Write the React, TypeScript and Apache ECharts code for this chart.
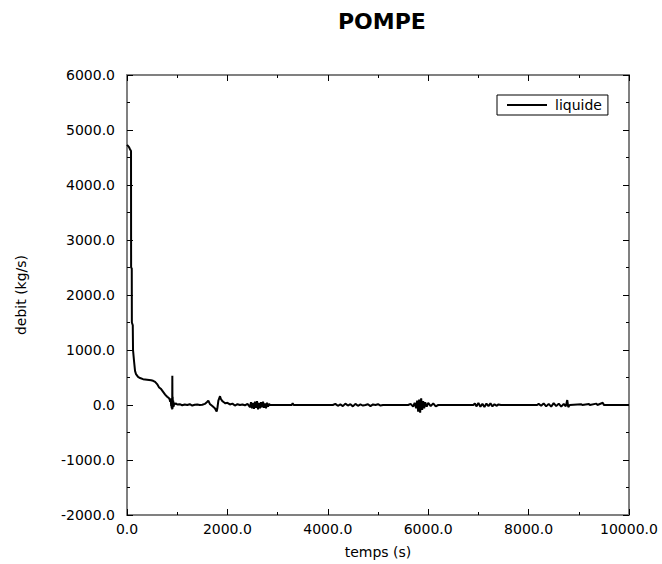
import React, { useEffect, useRef } from "react";
import * as echarts from "echarts";

// Transient (0 - 1000 s)
const tempsTransitoire = [0, 20, 40, 60, 80, 82, 95, 97, 115, 120, 140, 160, 180, 220, 260, 320, 400, 480, 520, 560, 600, 640, 680, 720, 760, 800, 830, 850, 860, 870, 880, 885, 890, 895, 900, 903, 906, 910, 915, 920, 930, 940, 950, 970, 1000];
const debitTransitoire = [4730, 4710, 4690, 4650, 4620, 2500, 2480, 1500, 1450, 1000, 800, 620, 560, 510, 490, 470, 460, 450, 440, 420, 380, 320, 290, 240, 190, 150, 130, 100, 60, 120, -20, 90, -60, 50, -80, 530, -70, 150, -40, 80, -30, 40, 10, 30, 10];

// 1000 - 3400 s
const tempsMilieu = [1050, 1100, 1150, 1200, 1250, 1300, 1350, 1400, 1450, 1500, 1550, 1600, 1620, 1650, 1700, 1750, 1786, 1800, 1820, 1853, 1870, 1900, 1930, 1960, 2000, 2050, 2100, 2150, 2200, 2250, 2300, 2350, 2400, 2450, 2470, 2490, 2510, 2530, 2550, 2570, 2590, 2610, 2630, 2650, 2670, 2690, 2710, 2730, 2750, 2770, 2790, 2810, 2830, 2850, 3280, 3300, 3320];
const debitMilieu = [15, -5, 10, 0, 15, -10, 5, 10, 0, 5, 20, 60, 80, 20, -20, -60, -120, -60, 80, 160, 110, 70, 50, 30, 40, 10, 25, -10, 15, 0, 10, -5, 20, -40, 50, -60, 40, -70, 60, -50, 70, -80, 40, -60, 50, -40, 60, -50, 30, -60, 40, -30, 20, 0, 0, 30, 0];

// 3400 - 10000 s
const tempsFin = [4100, 4150, 4200, 4250, 4300, 4350, 4400, 4450, 4500, 4550, 4600, 4650, 4700, 4750, 4800, 4850, 4900, 4950, 5000, 5050, 5100, 5600, 5650, 5700, 5730, 5760, 5780, 5800, 5820, 5840, 5860, 5880, 5900, 5920, 5940, 5970, 6000, 6050, 6100, 6150, 6200, 6900, 6930, 6960, 7000, 7040, 7080, 7120, 7160, 7200, 7240, 7280, 7320, 7360, 7400, 7450, 8170, 8200, 8250, 8300, 8350, 8400, 8450, 8500, 8550, 8600, 8650, 8700, 8740, 8770, 8790, 8820, 9050, 9070, 9200, 9220, 9350, 9370, 9480, 9500, 10000];
const debitFin = [0, 20, -15, 10, -20, 25, -10, 15, -25, 20, -15, 10, -10, 0, 15, -20, 10, 0, 15, -10, 0, 0, 20, -30, 40, -60, 80, -120, 100, -140, 120, -90, 70, -60, 50, -30, 40, -20, 30, -25, 0, 0, 30, -25, 35, -30, 20, -35, 25, -20, 30, -25, 15, -15, 10, 0, 0, 20, -15, 30, -25, 20, -30, 35, -20, 25, -30, 20, -25, 90, -40, 0, 15, 0, 20, 0, 25, 0, 40, 0, 0];

const xTicks = { min: 0, max: 10000, interval: 2000 };
const yTicks = { min: -2000, max: 6000, interval: 1000 };

const FONT = "DejaVu Sans";

export default function App() {
  const ref = useRef<HTMLDivElement>(null);
  useEffect(() => {
    if (!ref.current) return;
    const chart = echarts.init(ref.current, undefined, { renderer: "svg" });
    const temps = [...tempsTransitoire, ...tempsMilieu, ...tempsFin];
    const debit = [...debitTransitoire, ...debitMilieu, ...debitFin];
    const data = temps.map((t, i) => [t, debit[i]]);
    const axisLine = { show: true, onZero: false, lineStyle: { color: "#808080", width: 2 } };
    const axisTick = { show: true, inside: true, length: 6, lineStyle: { color: "#000", width: 1 } };
    const minorTick = { show: true, splitNumber: 2, length: 3, lineStyle: { color: "#000", width: 1 } };
    const fmt = (v: number) => v.toFixed(1);
    chart.setOption({
      animation: false,
      backgroundColor: "#fff",
      title: {
        text: "POMPE",
        left: 333,
        top: 5,
        textStyle: { fontFamily: FONT, fontSize: 22, fontWeight: "bold", color: "#000" },
      },
      legend: {
        data: ["liquide"],
        left: 497,
        top: 95,
        orient: "horizontal",
        borderColor: "#000",
        borderWidth: 1,
        borderRadius: 0,
        padding: [3, 6, 3, 10],
        itemWidth: 40,
        itemHeight: 2,
        itemGap: 0,
        icon: "rect",
        textStyle: { fontFamily: FONT, fontSize: 14, color: "#000", padding: [0, 0, 0, 3], lineHeight: 14 },
      },
      grid: { left: 127, top: 75, width: 502, height: 440, outerBoundsMode: "none", containLabel: false },
      xAxis: [
        {
          type: "value",
          position: "bottom",
          ...xTicks,
          name: "temps (s)",
          nameLocation: "middle",
          nameGap: 30,
          nameTextStyle: { fontFamily: FONT, fontSize: 14, color: "#000" },
          axisLine,
          axisTick,
          minorTick,
          splitLine: { show: false },
          axisLabel: { formatter: fmt, fontFamily: FONT, fontSize: 14, color: "#000", margin: 7, showMaxLabel: true, showMinLabel: true },
        },
        {
          type: "value",
          position: "top",
          ...xTicks,
          axisLine,
          axisTick,
          minorTick,
          splitLine: { show: false },
          axisLabel: { show: false },
        },
      ],
      yAxis: [
        {
          type: "value",
          position: "left",
          ...yTicks,
          name: "debit (kg/s)",
          nameLocation: "middle",
          nameGap: 99,
          nameRotate: 90,
          nameTextStyle: { fontFamily: FONT, fontSize: 14, color: "#000" },
          axisLine,
          axisTick,
          minorTick,
          splitLine: { show: false },
          axisLabel: { formatter: fmt, fontFamily: FONT, fontSize: 14, color: "#000", margin: 12 },
        },
        {
          type: "value",
          position: "right",
          ...yTicks,
          axisLine,
          axisTick,
          minorTick,
          splitLine: { show: false },
          axisLabel: { show: false },
        },
      ],
      series: [
        {
          name: "liquide",
          type: "line",
          xAxisIndex: 0,
          yAxisIndex: 0,
          data,
          showSymbol: false,
          symbol: "none",
          lineStyle: { color: "#000", width: 2 },
          itemStyle: { color: "#000" },
        },
      ],
    });
    return () => chart.dispose();
  }, []);
  return <div ref={ref} style={{ position: "fixed", left: 0, top: 0, width: 662, height: 564 }} />;
}
